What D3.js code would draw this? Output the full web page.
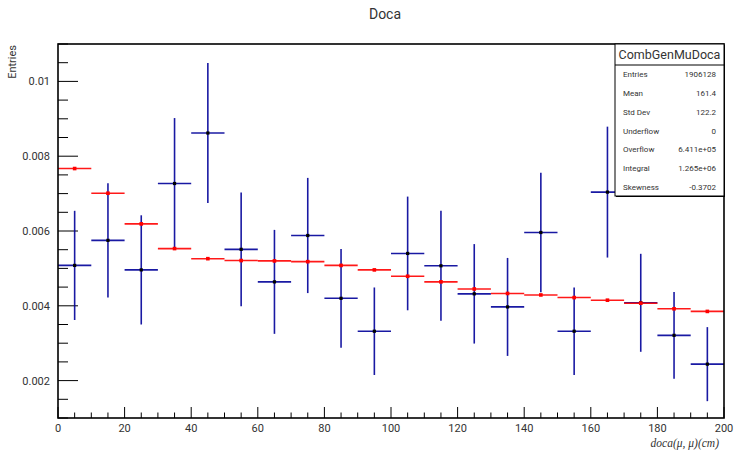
<!DOCTYPE html>
<html>
<head>
<meta charset="utf-8">
<script src="https://cdn.jsdelivr.net/npm/d3@7"></script>
<style>
  body { margin: 0; background: #fff; }
  svg { display: block; }
  text { font-family: Roboto, "DejaVu Sans", sans-serif; fill: #333; }
  text.math { font-family: "Liberation Serif", "DejaVu Serif", serif; font-style: italic; }
</style>
</head>
<body>
<svg id="chart"></svg>
<script>
// bins of 10 cm, data (blue) and MC (red)
const binEdges = [0, 10, 20, 30, 40, 50, 60, 70, 80, 90, 100, 110, 120, 130, 140, 150, 160, 170, 180, 190, 200];
const dataValues = [0.00508, 0.00575, 0.00496, 0.00727, 0.00862, 0.00551, 0.00464, 0.00588, 0.00420, 0.00332,
                    0.00540, 0.00507, 0.00432, 0.00397, 0.00596, 0.00332, 0.00704, 0.00408, 0.00321, 0.00244];
const dataErrors = [0.00146, 0.00153, 0.00146, 0.00175, 0.00187, 0.00152, 0.00139, 0.00154, 0.00132, 0.00117,
                    0.00152, 0.00147, 0.00133, 0.00131, 0.00160, 0.00117, 0.00175, 0.00131, 0.00116, 0.00099];
const mcValues = [0.00767, 0.00701, 0.00619, 0.00553, 0.00526, 0.00521, 0.00520, 0.00518, 0.00508, 0.00496,
                  0.00479, 0.00464, 0.00445, 0.00433, 0.00429, 0.00422, 0.00415, 0.00407, 0.00392, 0.00385];
const mcErrors = [0.00003, 0.00003, 0.00003, 0.00003, 0.00002, 0.00002, 0.00002, 0.00002, 0.00002, 0.00002,
                  0.00002, 0.00002, 0.00002, 0.00002, 0.00002, 0.00002, 0.00002, 0.00002, 0.00002, 0.00002];
const xTicks = [0, 20, 40, 60, 80, 100, 120, 140, 160, 180, 200];
const yTicks = [0.002, 0.004, 0.006, 0.008, 0.01];
const statNames = ["Entries", "Mean", "Std Dev", "Underflow", "Overflow", "Integral", "Skewness"];
const statValues = ["1906128", "161.4", "122.2", "0", "6.411e+05", "1.265e+06", "-0.3702"];

const width = 735, height = 451;
const margin = {top: 44, right: 11, bottom: 33, left: 58};

const svg = d3.select("#chart").attr("width", width).attr("height", height);

const x = d3.scaleLinear([0, 200], [margin.left, width - margin.right]);
const y = d3.scaleLinear([0.001, 0.011], [height - margin.bottom, margin.top]);

const bins = dataValues.map((v, i) => ({
  lo: binEdges[i], hi: binEdges[i + 1], mid: (binEdges[i] + binEdges[i + 1]) / 2,
  v, e: dataErrors[i], mc: mcValues[i], me: mcErrors[i]
}));

// title
svg.append("text").attr("x", 385).attr("y", 19)
  .attr("text-anchor", "middle").attr("font-size", 14).text("Doca");

// ticks (inside the frame)
const ax = svg.append("g").attr("stroke", "#000").attr("stroke-width", 1);
ax.selectAll("line.xt")
  .data(d3.range(0, 201, 5))
  .join("line")
  .attr("x1", d => x(d)).attr("x2", d => x(d))
  .attr("y1", y(0.001)).attr("y2", d => y(0.001) - (d % 20 === 0 ? 11 : 5.5));
ax.selectAll("line.yt")
  .data(d3.range(2, 23).map(d => d * 0.0005))
  .join("line")
  .attr("y1", d => y(d)).attr("y2", d => y(d))
  .attr("x1", x(0)).attr("x2", d => x(0) + (Math.round(d * 10000) % 20 === 0 ? 20 : 10));

// tick labels
svg.append("g").selectAll("text")
  .data(xTicks).join("text")
  .attr("x", d => x(d)).attr("y", 432)
  .attr("text-anchor", "middle").attr("font-size", 11)
  .text(d => d);
svg.append("g").selectAll("text")
  .data(yTicks).join("text")
  .attr("x", 50).attr("y", d => y(d) + 4)
  .attr("text-anchor", "end").attr("font-size", 11)
  .text(d => d3.format("")(+d.toFixed(3)));

// axis titles
svg.append("text")
  .attr("transform", `translate(16,${margin.top + 1}) rotate(-90)`)
  .attr("text-anchor", "end").attr("font-size", 11).text("Entries");
svg.append("text").attr("class", "math")
  .attr("x", 719).attr("y", 447).attr("text-anchor", "end")
  .attr("font-size", 11.5)
  .text("doca(\u03bc, \u03bc)(cm)");

// data: blue error crosses
const blue = "#000099";
const gData = svg.append("g").attr("stroke", blue).attr("stroke-width", 1.6).attr("stroke-opacity", 0.9);
gData.selectAll("line.h").data(bins).join("line")
  .attr("x1", d => x(d.lo)).attr("x2", d => x(d.hi))
  .attr("y1", d => y(d.v)).attr("y2", d => y(d.v));
gData.selectAll("line.v").data(bins).join("line")
  .attr("x1", d => x(d.mid)).attr("x2", d => x(d.mid))
  .attr("y1", d => y(d.v - d.e)).attr("y2", d => y(d.v + d.e));
svg.append("g").selectAll("rect").data(bins).join("rect")
  .attr("x", d => x(d.mid) - 1.6).attr("y", d => y(d.v) - 1.6)
  .attr("width", 3.2).attr("height", 3.2).attr("fill", "#000");

// MC: red
const gMc = svg.append("g").attr("stroke", "#ff0000").attr("stroke-width", 1.6).attr("stroke-opacity", 0.9);
gMc.selectAll("line.h").data(bins).join("line")
  .attr("x1", d => x(d.lo)).attr("x2", d => x(d.hi))
  .attr("y1", d => y(d.mc)).attr("y2", d => y(d.mc));
gMc.selectAll("line.v").data(bins).join("line")
  .attr("x1", d => x(d.mid)).attr("x2", d => x(d.mid))
  .attr("y1", d => y(d.mc - d.me)).attr("y2", d => y(d.mc + d.me));
svg.append("g").selectAll("rect").data(bins).join("rect")
  .attr("x", d => x(d.mid) - 1.8).attr("y", d => y(d.mc) - 1.8)
  .attr("width", 3.6).attr("height", 3.6).attr("fill", "#ff0000");

// frame
svg.append("rect")
  .attr("x", x(0)).attr("y", y(0.011))
  .attr("width", x(200) - x(0)).attr("height", y(0.001) - y(0.011))
  .attr("fill", "none").attr("stroke", "#000").attr("stroke-width", 1.6);

// stats box
const sb = {x: 615, y: 44, w: 109, h: 152, head: 21};
const gs = svg.append("g");
gs.append("rect").attr("x", sb.x).attr("y", sb.y).attr("width", sb.w).attr("height", sb.h)
  .attr("fill", "#fff").attr("stroke", "#000").attr("stroke-width", 1);
gs.append("line").attr("x1", sb.x + sb.w + 0.5).attr("x2", sb.x + sb.w + 0.5)
  .attr("y1", sb.y + 1).attr("y2", sb.y + sb.h + 1).attr("stroke", "#000").attr("stroke-width", 1);
gs.append("line").attr("x1", sb.x + 1).attr("x2", sb.x + sb.w + 1)
  .attr("y1", sb.y + sb.h + 0.5).attr("y2", sb.y + sb.h + 0.5).attr("stroke", "#000").attr("stroke-width", 1);
gs.append("line").attr("x1", sb.x).attr("x2", sb.x + sb.w)
  .attr("y1", sb.y + sb.head).attr("y2", sb.y + sb.head).attr("stroke", "#000").attr("stroke-width", 1);
gs.append("text").attr("x", sb.x + sb.w / 2).attr("y", sb.y + 15)
  .attr("text-anchor", "middle").attr("font-size", 12.5).text("CombGenMuDoca");
const rowY = d3.scaleBand(statNames, [sb.y + sb.head, sb.y + sb.h]);
gs.selectAll("text.n").data(statNames).join("text")
  .attr("x", sb.x + 8).attr("y", d => rowY(d) + rowY.bandwidth() / 2 + 3)
  .attr("font-size", 8).text(d => d);
gs.selectAll("text.v").data(statValues).join("text")
  .attr("x", sb.x + sb.w - 8).attr("y", (d, i) => rowY(statNames[i]) + rowY.bandwidth() / 2 + 3)
  .attr("text-anchor", "end").attr("font-size", 8).text(d => d);
</script>
</body>
</html>
